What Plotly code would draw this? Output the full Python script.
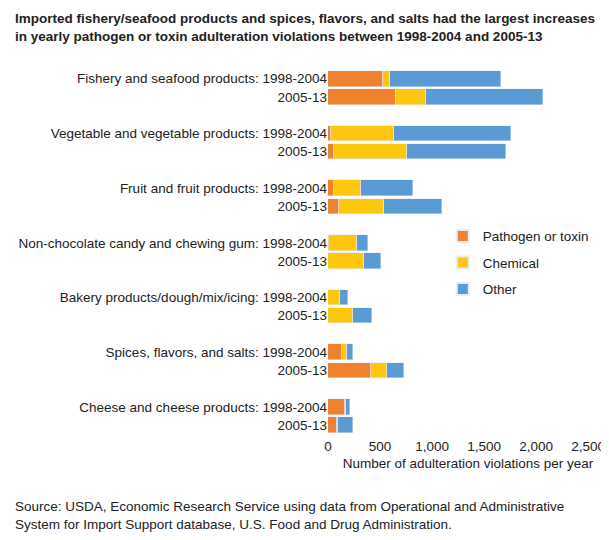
import plotly.graph_objects as go

groups = ["Fishery and seafood products", "Vegetable and vegetable products",
          "Fruit and fruit products", "Non-chocolate candy and chewing gum",
          "Bakery products/dough/mix/icing", "Spices, flavors, and salts",
          "Cheese and cheese products"]
periods = ["1998-2004", "2005-13"]

# rows in order: group1 98-04, group1 05-13, group2 ...
pathogen = [531, 656, 29, 58, 58, 106, 10, 0, 0, 0, 135, 415, 164, 87]
chemical = [67, 290, 608, 705, 261, 435, 270, 347, 116, 241, 48, 155, 10, 10]
other = [1062, 1120, 1120, 945, 501, 550, 106, 165, 77, 184, 58, 164, 38, 144]

ypos, labels = [], []
for g, name in enumerate(groups):
    ypos += [3 * g, 3 * g + 1]
    labels += [name + ": " + periods[0], periods[1]]

fig = go.Figure()
for vals, name, color in [(pathogen, "Pathogen or toxin", "#F0812F"),
                          (chemical, "Chemical", "#FDC60F"),
                          (other, "Other", "#5B9BD5")]:
    fig.add_trace(go.Bar(x=vals, y=ypos, name=name, orientation="h", legendgroup=name,
                         marker_color=color, width=0.85))

fig.update_layout(
    barmode="stack", width=609, height=540, plot_bgcolor="white", paper_bgcolor="white",
    font=dict(family="Liberation Sans", size=13.5, color="#222"),
    margin=dict(l=320, r=9, t=58, b=112),
    legend=dict(x=0.41, y=0.582, xanchor="left", yanchor="top", font=dict(size=13.5),
                traceorder="grouped", tracegroupgap=6, itemsizing="constant"),
    bargap=0,
)
fig.update_yaxes(tickvals=ypos, ticktext=labels, autorange=False, range=[19.6, -0.7],
                 showgrid=False, ticks="", ticklen=0, automargin=False)
fig.update_xaxes(range=[0, 2690], tickvals=[0, 500, 1000, 1500, 2000, 2500],
                 ticktext=["0", "500", "1,000", "1,500", "2,000", "2,500"],
                 showgrid=False, zeroline=False, automargin=False,
                 title=dict(text="Number of adulteration violations per year", standoff=6,
                            font=dict(size=13.5)))
fig.add_annotation(text="<b>Imported fishery/seafood products and spices, flavors, and salts had the largest increases<br>in yearly pathogen or toxin adulteration violations between 1998-2004 and 2005-13</b>",
                   xref="paper", yref="paper", x=-315 / 280, y=1.155, xanchor="left", yanchor="top",
                   showarrow=False, align="left", font=dict(size=13.5))
fig.add_annotation(text="Source: USDA, Economic Research Service using data from Operational and Administrative<br>System for Import Support database, U.S. Food and Drug Administration.",
                   xref="paper", yref="paper", x=-315 / 280, y=-0.165, xanchor="left", yanchor="top",
                   showarrow=False, align="left", font=dict(size=13.5))
fig.write_html("out.html")
